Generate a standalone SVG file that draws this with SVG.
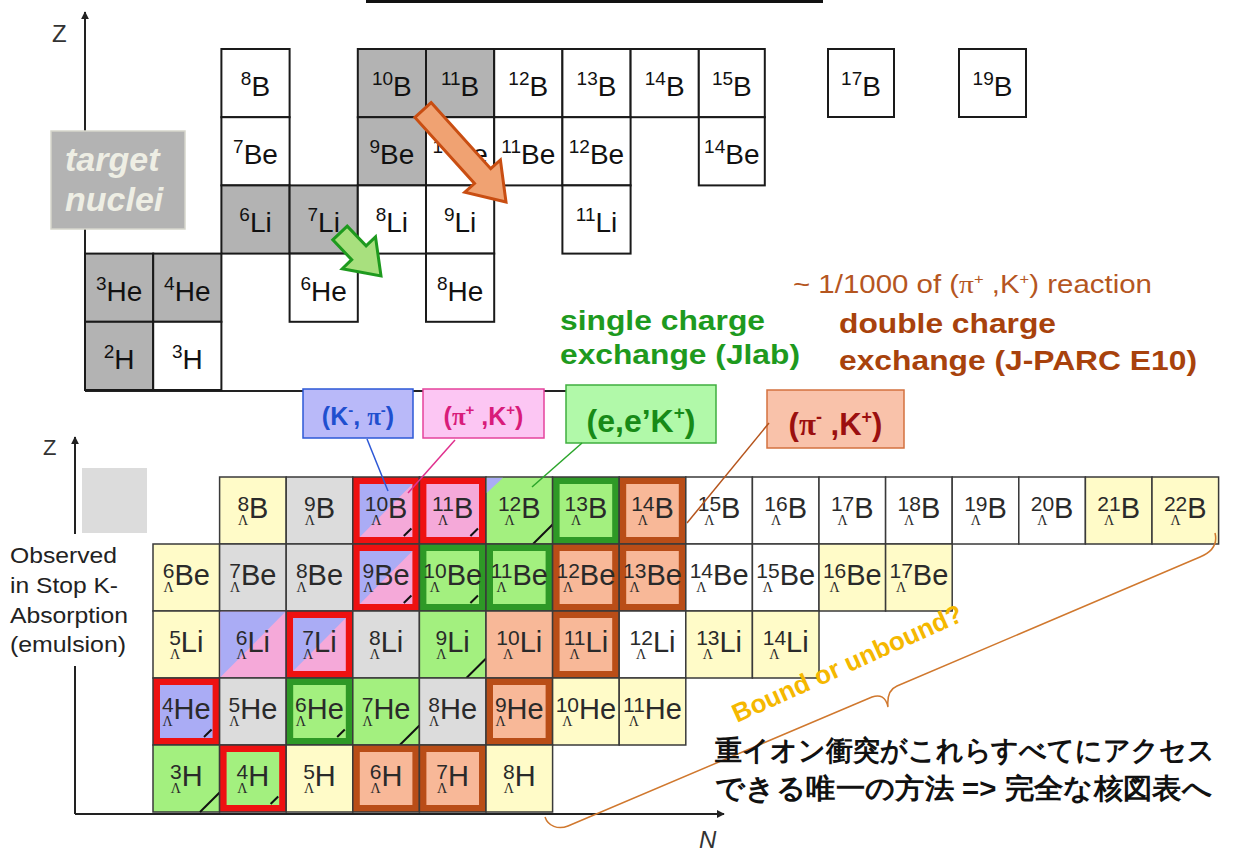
<svg xmlns="http://www.w3.org/2000/svg" width="1247" height="858" viewBox="0 0 1247 858">
<style>
text{font-family:"Liberation Sans",Arial,sans-serif}
.tc{stroke:#1a1a1a;stroke-width:2}
.w{fill:#fff}.g{fill:#b3b3b3}
.tt{font-size:28px;fill:#111;text-anchor:middle}
.tn{font-size:19px}
.c{stroke:#3a3a3a;stroke-width:1.5}
.yl{fill:#fffbc8}.gy{fill:#dcdcdc}.gn{fill:#a3f07f}.sa{fill:#f8b898}.pk{fill:#f5a9d9}.bl{fill:#aaacf5}
.fr{fill:#ee1111}.fg{fill:#2e9926}.fb{fill:#b94d17}
.bt{font-size:29px;fill:#2a2a2a;text-anchor:middle}
.bn{font-size:21px}
.L{font-family:"Liberation Serif",serif;font-size:14px;fill:#2a2a2a;text-anchor:middle}
.tk{stroke:#111;stroke-width:2}
.ax{stroke:#222;stroke-width:2;fill:none}
.lg{font-weight:bold;text-anchor:middle}
.sp{font-size:15px}
</style>
<defs>
<marker id="ah" viewBox="0 0 10 10" refX="9" refY="5" markerWidth="8" markerHeight="8" orient="auto" markerUnits="userSpaceOnUse"><path d="M0,0 L10,5 L0,10 z" fill="#222"/></marker>
</defs>
<rect width="1247" height="858" fill="#fff"/>
<rect x="366" y="0" width="457" height="3" fill="#111"/>

<g id="top-axes">
<line class="ax" x1="85" y1="391" x2="85" y2="12" marker-end="url(#ah)"/>
<line class="ax" x1="85" y1="391" x2="640" y2="391"/>
<text x="52" y="42" font-size="24" fill="#333">Z</text>
</g>

<g id="top-cells">
<g id="t8B" transform="translate(221.4,49)"><rect class="tc w" width="68.2" height="68.2"/><text class="tt" x="34.1" y="36"><tspan class="tn">8</tspan><tspan dy="11">B</tspan></text></g>
<g id="t10B" transform="translate(357.8,49)"><rect class="tc g" width="68.2" height="68.2"/><text class="tt" x="34.1" y="36"><tspan class="tn">10</tspan><tspan dy="11">B</tspan></text></g>
<g id="t11B" transform="translate(426,49)"><rect class="tc g" width="68.2" height="68.2"/><text class="tt" x="34.1" y="36"><tspan class="tn">11</tspan><tspan dy="11">B</tspan></text></g>
<g id="t12B" transform="translate(494.2,49)"><rect class="tc w" width="68.2" height="68.2"/><text class="tt" x="34.1" y="36"><tspan class="tn">12</tspan><tspan dy="11">B</tspan></text></g>
<g id="t13B" transform="translate(562.4,49)"><rect class="tc w" width="68.2" height="68.2"/><text class="tt" x="34.1" y="36"><tspan class="tn">13</tspan><tspan dy="11">B</tspan></text></g>
<g id="t14B" transform="translate(630.6,49)"><rect class="tc w" width="68.2" height="68.2"/><text class="tt" x="34.1" y="36"><tspan class="tn">14</tspan><tspan dy="11">B</tspan></text></g>
<g id="t15B" transform="translate(698.8,49)"><rect class="tc w" width="66" height="68.2"/><text class="tt" x="33" y="36"><tspan class="tn">15</tspan><tspan dy="11">B</tspan></text></g>
<g id="t17B" transform="translate(828,49)"><rect class="tc w" width="66" height="68"/><text class="tt" x="33" y="36"><tspan class="tn">17</tspan><tspan dy="11">B</tspan></text></g>
<g id="t19B" transform="translate(959,49)"><rect class="tc w" width="67" height="68"/><text class="tt" x="33.5" y="36"><tspan class="tn">19</tspan><tspan dy="11">B</tspan></text></g>

<g id="t7Be" transform="translate(221.4,117.2)"><rect class="tc w" width="68.2" height="68.2"/><text class="tt" x="34.1" y="36"><tspan class="tn">7</tspan><tspan dy="11">Be</tspan></text></g>
<g id="t9Be" transform="translate(357.8,117.2)"><rect class="tc g" width="68.2" height="68.2"/><text class="tt" x="34.1" y="36"><tspan class="tn">9</tspan><tspan dy="11">Be</tspan></text></g>
<g id="t10Be" transform="translate(426,117.2)"><rect class="tc w" width="68.2" height="68.2"/><text class="tt" x="34.1" y="36"><tspan class="tn">10</tspan><tspan dy="11">Be</tspan></text></g>
<g id="t11Be" transform="translate(494.2,117.2)"><rect class="tc w" width="68.2" height="68.2"/><text class="tt" x="34.1" y="36"><tspan class="tn">11</tspan><tspan dy="11">Be</tspan></text></g>
<g id="t12Be" transform="translate(562.4,117.2)"><rect class="tc w" width="68.2" height="68.2"/><text class="tt" x="34.1" y="36"><tspan class="tn">12</tspan><tspan dy="11">Be</tspan></text></g>
<g id="t14Be" transform="translate(698.8,117.2)"><rect class="tc w" width="66" height="68.2"/><text class="tt" x="33" y="36"><tspan class="tn">14</tspan><tspan dy="11">Be</tspan></text></g>

<g id="t6Li" transform="translate(221.4,185.4)"><rect class="tc g" width="68.2" height="68.2"/><text class="tt" x="34.1" y="36"><tspan class="tn">6</tspan><tspan dy="11">Li</tspan></text></g>
<g id="t7Li" transform="translate(289.6,185.4)"><rect class="tc g" width="68.2" height="68.2"/><text class="tt" x="34.1" y="36"><tspan class="tn">7</tspan><tspan dy="11">Li</tspan></text></g>
<g id="t8Li" transform="translate(357.8,185.4)"><rect class="tc w" width="68.2" height="68.2"/><text class="tt" x="34.1" y="36"><tspan class="tn">8</tspan><tspan dy="11">Li</tspan></text></g>
<g id="t9Li" transform="translate(426,185.4)"><rect class="tc w" width="68.2" height="68.2"/><text class="tt" x="34.1" y="36"><tspan class="tn">9</tspan><tspan dy="11">Li</tspan></text></g>
<g id="t11Li" transform="translate(562.4,185.4)"><rect class="tc w" width="68.2" height="68.2"/><text class="tt" x="34.1" y="36"><tspan class="tn">11</tspan><tspan dy="11">Li</tspan></text></g>

<g id="t3He" transform="translate(85,253.6)"><rect class="tc g" width="68.2" height="68.2"/><text class="tt" x="34.1" y="36"><tspan class="tn">3</tspan><tspan dy="11">He</tspan></text></g>
<g id="t4He" transform="translate(153.2,253.6)"><rect class="tc g" width="68.2" height="68.2"/><text class="tt" x="34.1" y="36"><tspan class="tn">4</tspan><tspan dy="11">He</tspan></text></g>
<g id="t6He" transform="translate(289.6,253.6)"><rect class="tc w" width="68.2" height="68.2"/><text class="tt" x="34.1" y="36"><tspan class="tn">6</tspan><tspan dy="11">He</tspan></text></g>
<g id="t8He" transform="translate(426,253.6)"><rect class="tc w" width="68.2" height="68.2"/><text class="tt" x="34.1" y="36"><tspan class="tn">8</tspan><tspan dy="11">He</tspan></text></g>

<g id="t2H" transform="translate(85,321.8)"><rect class="tc g" width="68.2" height="68.2"/><text class="tt" x="34.1" y="36"><tspan class="tn">2</tspan><tspan dy="11">H</tspan></text></g>
<g id="t3H" transform="translate(153.2,321.8)"><rect class="tc w" width="68.2" height="68.2"/><text class="tt" x="34.1" y="36"><tspan class="tn">3</tspan><tspan dy="11">H</tspan></text></g>
</g>

<g id="top-arrows">
<polygon points="431.1,102.6 490.7,168.7 500.4,160 506,202 464.8,192.2 474.5,183.5 414.9,117.4" fill="#f0a272" stroke="#c94e12" stroke-width="3"/>
<polygon points="347.2,226.1 366.1,245.9 375.5,236.9 381,276 342.3,268.7 351.7,259.7 332.8,239.9" fill="#a8e07e" stroke="#1e9a1e" stroke-width="3"/>
</g>

<g id="target">
<rect x="51" y="131" width="134" height="98" fill="#b3b3b3" stroke="#d6d6cc" stroke-width="1.5"/>
<text x="65" y="171" font-size="34" font-weight="bold" font-style="italic" fill="#eeeee4">target</text>
<text x="65" y="211" font-size="34" font-weight="bold" font-style="italic" fill="#eeeee4">nuclei</text>
</g>

<g id="annotations">
<text x="793" y="293" font-size="25" fill="#b5561f" textLength="359" lengthAdjust="spacingAndGlyphs">~ 1/1000 of (<tspan font-family="Liberation Serif">π</tspan><tspan dy="-9" font-size="14">+</tspan><tspan dy="9"> ,K</tspan><tspan dy="-9" font-size="14">+</tspan><tspan dy="9">) reaction</tspan></text>
<text x="839" y="333" font-size="28" font-weight="bold" fill="#a8420c" textLength="217" lengthAdjust="spacingAndGlyphs">double charge</text>
<text x="839" y="370" font-size="28" font-weight="bold" fill="#a8420c" textLength="358" lengthAdjust="spacingAndGlyphs">exchange (J-PARC E10)</text>
<text x="560" y="330" font-size="28" font-weight="bold" fill="#1e9a1e" textLength="205" lengthAdjust="spacingAndGlyphs">single charge</text>
<text x="560" y="364" font-size="28" font-weight="bold" fill="#1e9a1e" textLength="240" lengthAdjust="spacingAndGlyphs">exchange (Jlab)</text>
</g>

<g id="leg-kpi">
<rect x="303" y="389" width="110" height="49" fill="#b9b9f9" stroke="#2d58d6" stroke-width="1.5"/>
<text class="lg" x="358" y="425" font-size="25" fill="#1f4fcf">(K<tspan class="sp" dy="-10">-</tspan><tspan dy="10">, </tspan><tspan font-family="Liberation Serif">π</tspan><tspan class="sp" dy="-10">-</tspan><tspan dy="10">)</tspan></text>
</g>
<g id="leg-pik">
<rect x="423" y="389" width="121" height="49" fill="#fcc6f3" stroke="#e5439c" stroke-width="1.5"/>
<text class="lg" x="483.5" y="425" font-size="25" fill="#d81b7a">(<tspan font-family="Liberation Serif">π</tspan><tspan class="sp" dy="-10">+</tspan><tspan dy="10"> ,K</tspan><tspan class="sp" dy="-10">+</tspan><tspan dy="10">)</tspan></text>
</g>
<g id="leg-eek">
<rect x="566" y="385" width="150" height="58" fill="#b1f9a9" stroke="#3fae3f" stroke-width="1.5"/>
<text class="lg" x="641" y="432" font-size="32" fill="#178a17">(e,e’K<tspan font-size="19" dy="-13">+</tspan><tspan dy="13">)</tspan></text>
</g>
<g id="leg-pimk">
<rect x="767" y="390" width="137" height="58" fill="#f9c2aa" stroke="#d3713f" stroke-width="1.5"/>
<text class="lg" x="835.5" y="435" font-size="31" fill="#9b0f0f">(<tspan font-family="Liberation Serif">π</tspan><tspan font-size="18" dy="-12">-</tspan><tspan dy="12"> ,K</tspan><tspan font-size="18" dy="-12">+</tspan><tspan dy="12">)</tspan></text>
</g>

<g id="bottom-axes">
<line class="ax" x1="75" y1="814" x2="75" y2="437" marker-end="url(#ah)"/>
<line class="ax" x1="75" y1="814" x2="724" y2="814" marker-end="url(#ah)"/>
<text x="43" y="455" font-size="22" fill="#333">Z</text>
<text x="699" y="848" font-size="24" font-style="italic" fill="#333">N</text>
<rect x="82" y="468" width="65" height="65" fill="#dcdcdc"/>
<rect x="4" y="534" width="142" height="132" fill="#fff"/>
<text font-size="22" fill="#222">
<tspan x="10" y="563" textLength="107" lengthAdjust="spacingAndGlyphs">Observed</tspan>
<tspan x="10" y="593" textLength="108" lengthAdjust="spacingAndGlyphs">in Stop K-</tspan>
<tspan x="10" y="623" textLength="118" lengthAdjust="spacingAndGlyphs">Absorption</tspan>
<tspan x="10" y="652" textLength="116" lengthAdjust="spacingAndGlyphs">(emulsion)</tspan>
</text>
</g>

<g id="hyper-cells">
<g id="h8B" transform="translate(219.6,477)"><rect class="c yl" width="66.6" height="67"/><text class="bt" x="33.3" y="34"><tspan class="bn">8</tspan><tspan dy="7">B</tspan></text><text class="L" x="23.6" y="48">Λ</text></g>
<g id="h9B" transform="translate(286.2,477)"><rect class="c gy" width="66.6" height="67"/><text class="bt" x="33.3" y="34"><tspan class="bn">9</tspan><tspan dy="7">B</tspan></text><text class="L" x="23.6" y="48">Λ</text></g>
<g id="h10B" transform="translate(352.8,477)"><rect class="c fr" width="66.6" height="67"/><rect class="pk" x="7" y="7" width="52.6" height="53"/><polygon class="bl" points="7,7 59.6,7 7,60"/><path class="tk" d="M51,59 L58.6,51.5"/><text class="bt" x="33.3" y="34"><tspan class="bn">10</tspan><tspan dy="7">B</tspan></text><text class="L" x="23.6" y="48">Λ</text></g>
<g id="h11B" transform="translate(419.4,477)"><rect class="c fr" width="66.6" height="67"/><rect class="pk" x="7" y="7" width="52.6" height="53"/><path class="tk" d="M51,59 L58.6,51.5"/><text class="bt" x="33.3" y="34"><tspan class="bn">11</tspan><tspan dy="7">B</tspan></text><text class="L" x="23.6" y="48">Λ</text></g>
<g id="h12B" transform="translate(486,477)"><rect class="c gn" width="66.6" height="67"/><polygon class="bl" points="0.75,0.75 17,0.75 0.75,16"/><path class="tk" d="M47,67 L66.6,47.5"/><text class="bt" x="33.3" y="34"><tspan class="bn">12</tspan><tspan dy="7">B</tspan></text><text class="L" x="23.6" y="48">Λ</text></g>
<g id="h13B" transform="translate(552.6,477)"><rect class="c fg" width="66.6" height="67"/><rect class="gn" x="7" y="7" width="52.6" height="53"/><text class="bt" x="33.3" y="34"><tspan class="bn">13</tspan><tspan dy="7">B</tspan></text><text class="L" x="23.6" y="48">Λ</text></g>
<g id="h14B" transform="translate(619.2,477)"><rect class="c fb" width="66.6" height="67"/><rect class="sa" x="7" y="7" width="52.6" height="53"/><text class="bt" x="33.3" y="34"><tspan class="bn">14</tspan><tspan dy="7">B</tspan></text><text class="L" x="23.6" y="48">Λ</text></g>
<g id="h15B" transform="translate(685.8,477)"><rect class="c w" width="66.6" height="67"/><text class="bt" x="33.3" y="34"><tspan class="bn">15</tspan><tspan dy="7">B</tspan></text><text class="L" x="23.6" y="48">Λ</text></g>
<g id="h16B" transform="translate(752.4,477)"><rect class="c w" width="66.6" height="67"/><text class="bt" x="33.3" y="34"><tspan class="bn">16</tspan><tspan dy="7">B</tspan></text><text class="L" x="23.6" y="48">Λ</text></g>
<g id="h17B" transform="translate(819,477)"><rect class="c w" width="66.6" height="67"/><text class="bt" x="33.3" y="34"><tspan class="bn">17</tspan><tspan dy="7">B</tspan></text><text class="L" x="23.6" y="48">Λ</text></g>
<g id="h18B" transform="translate(885.6,477)"><rect class="c w" width="66.6" height="67"/><text class="bt" x="33.3" y="34"><tspan class="bn">18</tspan><tspan dy="7">B</tspan></text><text class="L" x="23.6" y="48">Λ</text></g>
<g id="h19B" transform="translate(952.2,477)"><rect class="c w" width="66.6" height="67"/><text class="bt" x="33.3" y="34"><tspan class="bn">19</tspan><tspan dy="7">B</tspan></text><text class="L" x="23.6" y="48">Λ</text></g>
<g id="h20B" transform="translate(1018.8,477)"><rect class="c w" width="66.6" height="67"/><text class="bt" x="33.3" y="34"><tspan class="bn">20</tspan><tspan dy="7">B</tspan></text><text class="L" x="23.6" y="48">Λ</text></g>
<g id="h21B" transform="translate(1085.4,477)"><rect class="c yl" width="66.6" height="67"/><text class="bt" x="33.3" y="34"><tspan class="bn">21</tspan><tspan dy="7">B</tspan></text><text class="L" x="23.6" y="48">Λ</text></g>
<g id="h22B" transform="translate(1152,477)"><rect class="c yl" width="66.6" height="67"/><text class="bt" x="33.3" y="34"><tspan class="bn">22</tspan><tspan dy="7">B</tspan></text><text class="L" x="23.6" y="48">Λ</text></g>

<g id="h6Be" transform="translate(153,544)"><rect class="c yl" width="66.6" height="67"/><text class="bt" x="33.3" y="34"><tspan class="bn">6</tspan><tspan dy="7">Be</tspan></text><text class="L" x="15.5" y="48">Λ</text></g>
<g id="h7Be" transform="translate(219.6,544)"><rect class="c gy" width="66.6" height="67"/><text class="bt" x="33.3" y="34"><tspan class="bn">7</tspan><tspan dy="7">Be</tspan></text><text class="L" x="15.5" y="48">Λ</text></g>
<g id="h8Be" transform="translate(286.2,544)"><rect class="c gy" width="66.6" height="67"/><text class="bt" x="33.3" y="34"><tspan class="bn">8</tspan><tspan dy="7">Be</tspan></text><text class="L" x="15.5" y="48">Λ</text></g>
<g id="h9Be" transform="translate(352.8,544)"><rect class="c fr" width="66.6" height="67"/><rect class="pk" x="7" y="7" width="52.6" height="53"/><polygon class="bl" points="7,7 59.6,7 7,60"/><path class="tk" d="M51,59 L58.6,51.5"/><text class="bt" x="33.3" y="34"><tspan class="bn">9</tspan><tspan dy="7">Be</tspan></text><text class="L" x="15.5" y="48">Λ</text></g>
<g id="h10Be" transform="translate(419.4,544)"><rect class="c fg" width="66.6" height="67"/><rect class="gn" x="7" y="7" width="52.6" height="53"/><path class="tk" d="M51,59 L58.6,51.5"/><text class="bt" x="33.3" y="34"><tspan class="bn">10</tspan><tspan dy="7">Be</tspan></text><text class="L" x="15.5" y="48">Λ</text></g>
<g id="h11Be" transform="translate(486,544)"><rect class="c fg" width="66.6" height="67"/><rect class="gn" x="7" y="7" width="52.6" height="53"/><text class="bt" x="33.3" y="34"><tspan class="bn">11</tspan><tspan dy="7">Be</tspan></text><text class="L" x="15.5" y="48">Λ</text></g>
<g id="h12Be" transform="translate(552.6,544)"><rect class="c fb" width="66.6" height="67"/><rect class="sa" x="7" y="7" width="52.6" height="53"/><text class="bt" x="33.3" y="34"><tspan class="bn">12</tspan><tspan dy="7">Be</tspan></text><text class="L" x="15.5" y="48">Λ</text></g>
<g id="h13Be" transform="translate(619.2,544)"><rect class="c fb" width="66.6" height="67"/><rect class="sa" x="7" y="7" width="52.6" height="53"/><text class="bt" x="33.3" y="34"><tspan class="bn">13</tspan><tspan dy="7">Be</tspan></text><text class="L" x="15.5" y="48">Λ</text></g>
<g id="h14Be" transform="translate(685.8,544)"><rect class="c w" width="66.6" height="67"/><text class="bt" x="33.3" y="34"><tspan class="bn">14</tspan><tspan dy="7">Be</tspan></text><text class="L" x="15.5" y="48">Λ</text></g>
<g id="h15Be" transform="translate(752.4,544)"><rect class="c w" width="66.6" height="67"/><text class="bt" x="33.3" y="34"><tspan class="bn">15</tspan><tspan dy="7">Be</tspan></text><text class="L" x="15.5" y="48">Λ</text></g>
<g id="h16Be" transform="translate(819,544)"><rect class="c yl" width="66.6" height="67"/><text class="bt" x="33.3" y="34"><tspan class="bn">16</tspan><tspan dy="7">Be</tspan></text><text class="L" x="15.5" y="48">Λ</text></g>
<g id="h17Be" transform="translate(885.6,544)"><rect class="c yl" width="66.6" height="67"/><text class="bt" x="33.3" y="34"><tspan class="bn">17</tspan><tspan dy="7">Be</tspan></text><text class="L" x="15.5" y="48">Λ</text></g>

<g id="h5Li" transform="translate(153,611)"><rect class="c yl" width="66.6" height="67"/><text class="bt" x="33.3" y="34"><tspan class="bn">5</tspan><tspan dy="7">Li</tspan></text><text class="L" x="22" y="48">Λ</text></g>
<g id="h6Li" transform="translate(219.6,611)"><rect class="c pk" width="66.6" height="67"/><polygon class="bl" points="0.75,0.75 65.85,0.75 0.75,66.25"/><text class="bt" x="33.3" y="34"><tspan class="bn">6</tspan><tspan dy="7">Li</tspan></text><text class="L" x="22" y="48">Λ</text></g>
<g id="h7Li" transform="translate(286.2,611)"><rect class="c fr" width="66.6" height="67"/><rect class="pk" x="7" y="7" width="52.6" height="53"/><polygon class="bl" points="7,7 59.6,7 7,60"/><text class="bt" x="33.3" y="34"><tspan class="bn">7</tspan><tspan dy="7">Li</tspan></text><text class="L" x="22" y="48">Λ</text></g>
<g id="h8Li" transform="translate(352.8,611)"><rect class="c gy" width="66.6" height="67"/><text class="bt" x="33.3" y="34"><tspan class="bn">8</tspan><tspan dy="7">Li</tspan></text><text class="L" x="22" y="48">Λ</text></g>
<g id="h9Li" transform="translate(419.4,611)"><rect class="c gn" width="66.6" height="67"/><path class="tk" d="M47,67 L66.6,47.5"/><text class="bt" x="33.3" y="34"><tspan class="bn">9</tspan><tspan dy="7">Li</tspan></text><text class="L" x="22" y="48">Λ</text></g>
<g id="h10Li" transform="translate(486,611)"><rect class="c sa" width="66.6" height="67"/><text class="bt" x="33.3" y="34"><tspan class="bn">10</tspan><tspan dy="7">Li</tspan></text><text class="L" x="22" y="48">Λ</text></g>
<g id="h11Li" transform="translate(552.6,611)"><rect class="c fb" width="66.6" height="67"/><rect class="sa" x="7" y="7" width="52.6" height="53"/><text class="bt" x="33.3" y="34"><tspan class="bn">11</tspan><tspan dy="7">Li</tspan></text><text class="L" x="22" y="48">Λ</text></g>
<g id="h12Li" transform="translate(619.2,611)"><rect class="c w" width="66.6" height="67"/><text class="bt" x="33.3" y="34"><tspan class="bn">12</tspan><tspan dy="7">Li</tspan></text><text class="L" x="22" y="48">Λ</text></g>
<g id="h13Li" transform="translate(685.8,611)"><rect class="c yl" width="66.6" height="67"/><text class="bt" x="33.3" y="34"><tspan class="bn">13</tspan><tspan dy="7">Li</tspan></text><text class="L" x="22" y="48">Λ</text></g>
<g id="h14Li" transform="translate(752.4,611)"><rect class="c yl" width="66.6" height="67"/><text class="bt" x="33.3" y="34"><tspan class="bn">14</tspan><tspan dy="7">Li</tspan></text><text class="L" x="22" y="48">Λ</text></g>

<g id="h4He" transform="translate(153,678)"><rect class="c fr" width="66.6" height="67"/><rect class="bl" x="7" y="7" width="52.6" height="53"/><path class="tk" d="M51,59 L58.6,51.5"/><text class="bt" x="33.3" y="34"><tspan class="bn">4</tspan><tspan dy="7">He</tspan></text><text class="L" x="14.7" y="48">Λ</text></g>
<g id="h5He" transform="translate(219.6,678)"><rect class="c gy" width="66.6" height="67"/><text class="bt" x="33.3" y="34"><tspan class="bn">5</tspan><tspan dy="7">He</tspan></text><text class="L" x="14.7" y="48">Λ</text></g>
<g id="h6He" transform="translate(286.2,678)"><rect class="c fg" width="66.6" height="67"/><rect class="gn" x="7" y="7" width="52.6" height="53"/><path class="tk" d="M51,59 L58.6,51.5"/><text class="bt" x="33.3" y="34"><tspan class="bn">6</tspan><tspan dy="7">He</tspan></text><text class="L" x="14.7" y="48">Λ</text></g>
<g id="h7He" transform="translate(352.8,678)"><rect class="c gn" width="66.6" height="67"/><path class="tk" d="M47,67 L66.6,47.5"/><text class="bt" x="33.3" y="34"><tspan class="bn">7</tspan><tspan dy="7">He</tspan></text><text class="L" x="14.7" y="48">Λ</text></g>
<g id="h8He" transform="translate(419.4,678)"><rect class="c gy" width="66.6" height="67"/><text class="bt" x="33.3" y="34"><tspan class="bn">8</tspan><tspan dy="7">He</tspan></text><text class="L" x="14.7" y="48">Λ</text></g>
<g id="h9He" transform="translate(486,678)"><rect class="c fb" width="66.6" height="67"/><rect class="sa" x="7" y="7" width="52.6" height="53"/><text class="bt" x="33.3" y="34"><tspan class="bn">9</tspan><tspan dy="7">He</tspan></text><text class="L" x="14.7" y="48">Λ</text></g>
<g id="h10He" transform="translate(552.6,678)"><rect class="c yl" width="66.6" height="67"/><text class="bt" x="33.3" y="34"><tspan class="bn">10</tspan><tspan dy="7">He</tspan></text><text class="L" x="14.7" y="48">Λ</text></g>
<g id="h11He" transform="translate(619.2,678)"><rect class="c yl" width="66.6" height="67"/><text class="bt" x="33.3" y="34"><tspan class="bn">11</tspan><tspan dy="7">He</tspan></text><text class="L" x="14.7" y="48">Λ</text></g>

<g id="h3H" transform="translate(153,745)"><rect class="c gn" width="66.6" height="67"/><path class="tk" d="M47,67 L66.6,47.5"/><text class="bt" x="33.3" y="34"><tspan class="bn">3</tspan><tspan dy="7">H</tspan></text><text class="L" x="22.8" y="48">Λ</text></g>
<g id="h4H" transform="translate(219.6,745)"><rect class="c fr" width="66.6" height="67"/><rect class="gn" x="7" y="7" width="52.6" height="53"/><path class="tk" d="M51,59 L58.6,51.5"/><text class="bt" x="33.3" y="34"><tspan class="bn">4</tspan><tspan dy="7">H</tspan></text><text class="L" x="22.8" y="48">Λ</text></g>
<g id="h5H" transform="translate(286.2,745)"><rect class="c yl" width="66.6" height="67"/><text class="bt" x="33.3" y="34"><tspan class="bn">5</tspan><tspan dy="7">H</tspan></text><text class="L" x="22.8" y="48">Λ</text></g>
<g id="h6H" transform="translate(352.8,745)"><rect class="c fb" width="66.6" height="67"/><rect class="sa" x="7" y="7" width="52.6" height="53"/><text class="bt" x="33.3" y="34"><tspan class="bn">6</tspan><tspan dy="7">H</tspan></text><text class="L" x="22.8" y="48">Λ</text></g>
<g id="h7H" transform="translate(419.4,745)"><rect class="c fb" width="66.6" height="67"/><rect class="sa" x="7" y="7" width="52.6" height="53"/><text class="bt" x="33.3" y="34"><tspan class="bn">7</tspan><tspan dy="7">H</tspan></text><text class="L" x="22.8" y="48">Λ</text></g>
<g id="h8H" transform="translate(486,745)"><rect class="c yl" width="66.6" height="67"/><text class="bt" x="33.3" y="34"><tspan class="bn">8</tspan><tspan dy="7">H</tspan></text><text class="L" x="22.8" y="48">Λ</text></g>
</g>

<g id="connectors" fill="none" stroke-width="1.5">
<line x1="367" y1="439" x2="388" y2="491" stroke="#2d58d6"/>
<line x1="455" y1="440" x2="408" y2="493" stroke="#e0308e"/>
<line x1="582" y1="443" x2="532" y2="487" stroke="#2aa52a"/>
<line x1="769" y1="423" x2="687" y2="523" stroke="#b5541c"/>
<path d="M1215,533 C1218,545 1212,552 1200,557 L897,686 C890,689 887,697 888,707 C886,697 880,694 872,697 L568,826 C558,830 548,826 545,817" stroke="#d0782e"/>
</g>

<g id="notes">
<text transform="translate(737,723) rotate(-24.3)" font-size="26" font-weight="bold" fill="#f5b800" textLength="250" lengthAdjust="spacingAndGlyphs">Bound or unbound?</text>
<text x="715" y="760" font-family="'Noto Sans CJK JP','Noto Sans CJK SC',sans-serif" font-size="28" font-weight="bold" fill="#111" textLength="500" lengthAdjust="spacingAndGlyphs">重イオン衝突がこれらすべてにアクセス</text>
<text x="715" y="798" font-family="'Noto Sans CJK JP','Noto Sans CJK SC',sans-serif" font-size="28" font-weight="bold" fill="#111" textLength="497" lengthAdjust="spacingAndGlyphs">できる唯一の方法 => 完全な核図表へ</text>
</g>
</svg>
